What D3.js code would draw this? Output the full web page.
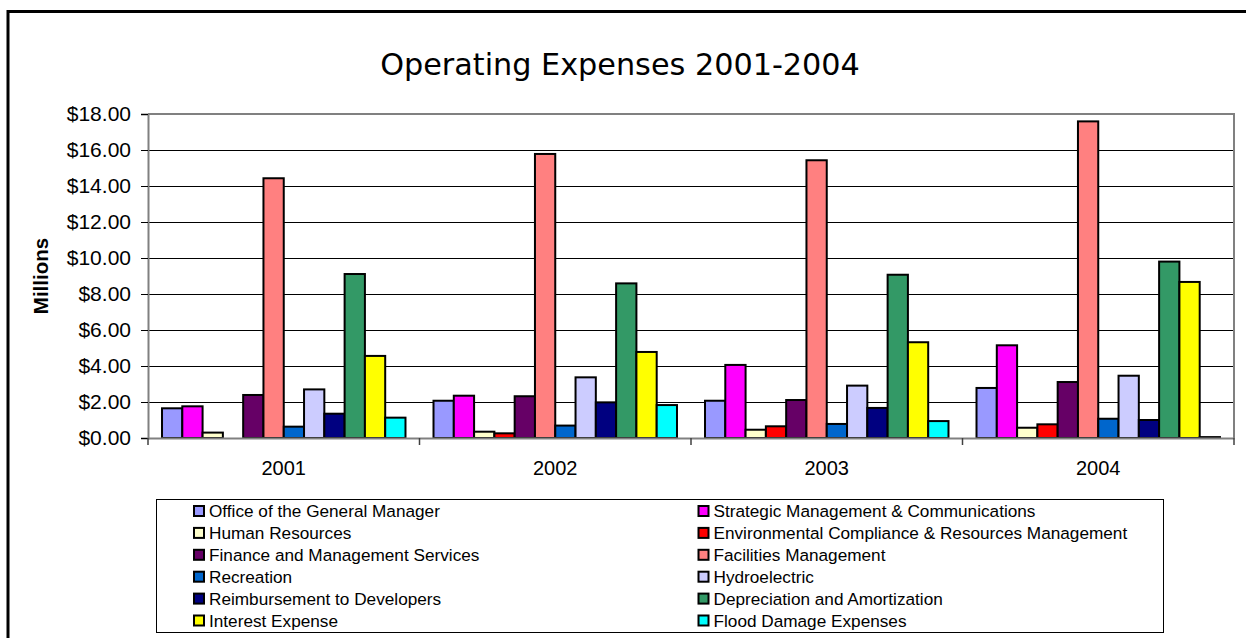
<!DOCTYPE html>
<html>
<head>
<meta charset="utf-8">
<script src="https://cdn.jsdelivr.net/npm/d3@7"></script>
<style>
  html, body { margin: 0; padding: 0; background: #fff; }
  svg { display: block; }
</style>
</head>
<body>
<svg id="chart" width="1246" height="638"></svg>
<script>
// Fiscal years on the category axis
const years = ["2001", "2002", "2003", "2004"];

// Departments / expense lines, in plotting order
const seriesNames = [
  "Office of the General Manager",
  "Strategic Management & Communications",
  "Human Resources",
  "Environmental Compliance & Resources Management",
  "Finance and Management Services",
  "Facilities Management",
  "Recreation",
  "Hydroelectric",
  "Reimbursement to Developers",
  "Depreciation and Amortization",
  "Interest Expense",
  "Flood Damage Expenses"
];

// Expenses in millions of dollars, one array per year (same order as seriesNames)
const expenses2001 = [1.65, 1.76, 0.30, 0.00, 2.39, 14.43, 0.63, 2.70, 1.35, 9.11, 4.56, 1.13];
const expenses2002 = [2.07, 2.35, 0.35, 0.26, 2.32, 15.78, 0.69, 3.37, 1.98, 8.59, 4.78, 1.83];
const expenses2003 = [2.07, 4.06, 0.46, 0.65, 2.11, 15.43, 0.78, 2.91, 1.67, 9.07, 5.32, 0.94];
const expenses2004 = [2.78, 5.15, 0.57, 0.76, 3.11, 17.59, 1.07, 3.46, 1.00, 9.80, 8.67, 0.05];

// Value-axis tick labels (millions)
const yTickValues = [0, 2, 4, 6, 8, 10, 12, 14, 16, 18];

const seriesColors = [
  "#9999FF", "#FF00FF", "#FFFFCC", "#FF0000", "#660066", "#FF8080",
  "#0066CC", "#CCCCFF", "#000080", "#339966", "#FFFF00", "#00FFFF"
];

const byYear = { "2001": expenses2001, "2002": expenses2002, "2003": expenses2003, "2004": expenses2004 };

const svg = d3.select("#chart");
const plot = { left: 148, right: 1234, top: 114, bottom: 438 };

// Outer chart frame
svg.append("rect")
  .attr("x", 8).attr("y", 11.5)
  .attr("width", 1260).attr("height", 660)
  .attr("fill", "#fff").attr("stroke", "#000").attr("stroke-width", 3);

// Title, fitted to its box width
const title = svg.append("text")
  .attr("x", 620).attr("y", 75)
  .attr("text-anchor", "middle")
  .attr("font-family", "DejaVu Sans, Verdana, sans-serif")
  .attr("font-size", 28)
  .attr("fill", "#000")
  .text("Operating Expenses 2001-2004");
const tw = title.node().getComputedTextLength();
title.attr("font-size", 28 * 480 / tw);

// Scales
const y = d3.scaleLinear().domain([0, 18]).range([plot.bottom, plot.top]);
const x0 = d3.scaleBand().domain(years).range([plot.left, plot.right]).padding(0);
const gapHalf = x0.bandwidth() * 0.0516;
const x1 = d3.scaleBand().domain(seriesNames).range([gapHalf, x0.bandwidth() - gapHalf]).padding(0);

// Horizontal gridlines
svg.append("g")
  .selectAll("line")
  .data(yTickValues.filter(v => v > 0 && v < 18))
  .join("line")
  .attr("x1", plot.left).attr("x2", plot.right)
  .attr("y1", d => Math.round(y(d)) + 0.5).attr("y2", d => Math.round(y(d)) + 0.5)
  .attr("stroke", "#000").attr("stroke-width", 1);

// Plot border (top and right)
svg.append("path")
  .attr("d", `M${plot.left},${plot.top} H${plot.right} V${plot.bottom}`)
  .attr("fill", "none").attr("stroke", "#808080").attr("stroke-width", 2);

// Bars
const groups = svg.append("g").selectAll("g")
  .data(years)
  .join("g")
  .attr("transform", d => `translate(${x0(d)},0)`);

groups.selectAll("rect")
  .data(yr => seriesNames.map((name, i) => ({ name, i, value: byYear[yr][i] })).filter(d => d.value > 0))
  .join("rect")
  .attr("x", d => x1(d.name))
  .attr("width", x1.bandwidth())
  .attr("y", d => y(d.value))
  .attr("height", d => y(0) - y(d.value))
  .attr("fill", d => seriesColors[d.i])
  .attr("stroke", "#000")
  .attr("stroke-width", 2);

// Value axis
const yAxis = d3.axisLeft(y)
  .tickValues(yTickValues)
  .tickFormat(d3.format("$,.2f"))
  .tickSize(7)
  .tickPadding(10);
const gy = svg.append("g")
  .attr("transform", `translate(${plot.left},0)`)
  .call(yAxis);
gy.select(".domain").attr("stroke", "#808080").attr("stroke-width", 2);
gy.selectAll(".tick line").attr("stroke", "#000");
gy.selectAll("text")
  .attr("font-family", "Liberation Sans, Arial, sans-serif")
  .attr("font-size", 21)
  .attr("fill", "#000");

// Category axis
const xAxis = d3.axisBottom(x0).tickSize(0).tickPadding(23);
const gx = svg.append("g")
  .attr("transform", `translate(0,${plot.bottom})`)
  .call(xAxis);
gx.select(".domain").attr("stroke", "#808080").attr("stroke-width", 2);
gx.selectAll("text")
  .attr("font-family", "Liberation Sans, Arial, sans-serif")
  .attr("font-size", 20)
  .attr("fill", "#000");

// Category separator tick marks
svg.append("g")
  .selectAll("line")
  .data(years.concat(["end"]))
  .join("line")
  .attr("x1", (d, i) => i < years.length ? x0(d) : plot.right)
  .attr("x2", (d, i) => i < years.length ? x0(d) : plot.right)
  .attr("y1", plot.bottom).attr("y2", plot.bottom + 7)
  .attr("stroke", "#404040").attr("stroke-width", 1.5);

// Axis title
svg.append("text")
  .attr("transform", `translate(48,276) rotate(-90)`)
  .attr("text-anchor", "middle")
  .attr("font-family", "Liberation Sans, Arial, sans-serif")
  .attr("font-weight", "bold")
  .attr("font-size", 20.5)
  .attr("fill", "#000")
  .text("Millions");

// Legend
const legend = svg.append("g");
legend.append("rect")
  .attr("x", 156.5).attr("y", 499.5)
  .attr("width", 1007).attr("height", 133)
  .attr("fill", "#fff").attr("stroke", "#000").attr("stroke-width", 1);

const colX = [194, 698.5];
const rowY0 = 511, rowStep = 21.9;
const items = legend.selectAll("g.item")
  .data(seriesNames.map((name, i) => ({ name, i })))
  .join("g")
  .attr("class", "item")
  .attr("transform", d => `translate(${colX[d.i % 2]},${rowY0 + Math.floor(d.i / 2) * rowStep})`);

items.append("rect")
  .attr("x", 0).attr("y", -5)
  .attr("width", 10).attr("height", 10)
  .attr("fill", d => seriesColors[d.i])
  .attr("stroke", "#000").attr("stroke-width", 2);

items.append("text")
  .attr("x", 15).attr("y", 0)
  .attr("dy", "0.35em")
  .attr("font-family", "Liberation Sans, Arial, sans-serif")
  .attr("font-size", 17.2)
  .attr("fill", "#000")
  .text(d => d.name);
</script>
</body>
</html>
